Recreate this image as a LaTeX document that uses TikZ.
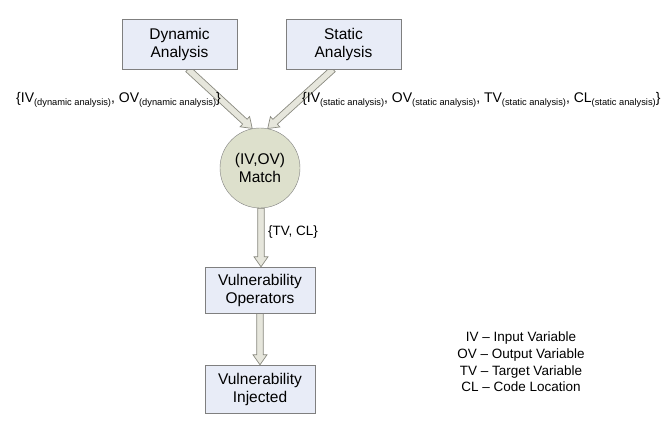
\documentclass[tikz,border=0pt]{standalone}
\usepackage{fontspec}
\setmainfont{Liberation Sans}
\usetikzlibrary{calc}
\pgfdeclarelayer{background}
\pgfsetlayers{background,main}
\definecolor{boxfill}{HTML}{E8ECF7}
\definecolor{boxline}{HTML}{7F7F7F}
\definecolor{circfill}{HTML}{DDE0CC}
\definecolor{arrfill}{HTML}{E6E6DC}
\definecolor{arrline}{HTML}{8A8A80}
\newcommand{\sbs}[1]{\raisebox{-3.2pt}{\fontsize{9.3}{11}\selectfont #1}}
\tikzset{
  boxnode/.style={draw=boxline, fill=boxfill, minimum width=115pt, minimum height=50pt,
    align=center, inner sep=0pt, font=\fontsize{15.5}{18}\selectfont},
  circnode/.style={circle, draw=boxline, fill=circfill, minimum size=80pt, inner sep=0pt,
    align=center, font=\fontsize{15.5}{18}\selectfont},
  lbl/.style={inner sep=0pt, font=\fontsize{14}{17}\selectfont},
  fatarrow/.style={draw=arrline, fill=arrfill, line width=0.7pt, line join=miter,
    to path={let \p1=(\tikztostart), \p2=(\tikztotarget),
      \n1={atan2(\y2-\y1,\x2-\x1)}, \n2={veclen(\x2-\x1,\y2-\y1)} in
      {[shift={(\p1)}, rotate=\n1]
       (0pt,-3.3pt) -- ({(\n2-10)*1pt},-3.3pt) -- ({(\n2-10)*1pt},-7pt) -- ({\n2*1pt},0pt)
       -- ({(\n2-10)*1pt},7pt) -- ({(\n2-10)*1pt},3.3pt) -- (0pt,3.3pt) -- cycle}}}
}
\begin{document}
\begin{tikzpicture}[x=1pt,y=-1pt]
\useasboundingbox (0,0) rectangle (667,424);
\node[boxnode] (dyn) at (179.5,44) {Dynamic\\Analysis};
\node[boxnode] (sta) at (343.5,44) {Static\\Analysis};
\node[circnode] (match) at (260,168) {(IV,OV)\\Match};
\node[boxnode, minimum width=110pt, minimum height=46pt] (vop) at (260,290) {Vulnerability\\Operators};
\node[boxnode, minimum width=110pt, minimum height=48pt] (vin) at (260,389) {Vulnerability\\Injected};
\begin{pgfonlayer}{background}
\draw[fatarrow] ([xshift=8.5pt]dyn.south) to (match.101);
\draw[fatarrow] ([xshift=-10.5pt]sta.south) to (match.79);
\draw[fatarrow] ([xshift=1pt]match.south) to ([xshift=1pt]vop.north);
\draw[fatarrow] (vop.south) to (vin.north);
\end{pgfonlayer}
\node[lbl, anchor=east] (ldyn) at (221,100) {\{IV\sbs{(dynamic analysis)}, OV\sbs{(dynamic analysis)}\}};
\node[lbl, anchor=west] (lsta) at (302,100) {\{IV\sbs{(static analysis)}, OV\sbs{(static analysis)}, TV\sbs{(static analysis)}, CL\sbs{(static analysis)}\}};
\node[lbl, anchor=west, font=\fontsize{13.5}{16}\selectfont] (ltv) at (268,232) {\{TV, CL\}};
\node[lbl, align=center, font=\fontsize{13.5}{16.7}\selectfont] (legend) at (521,362)
  {IV -- Input Variable\\OV -- Output Variable\\TV -- Target Variable\\CL -- Code Location};
\end{tikzpicture}
\end{document}
